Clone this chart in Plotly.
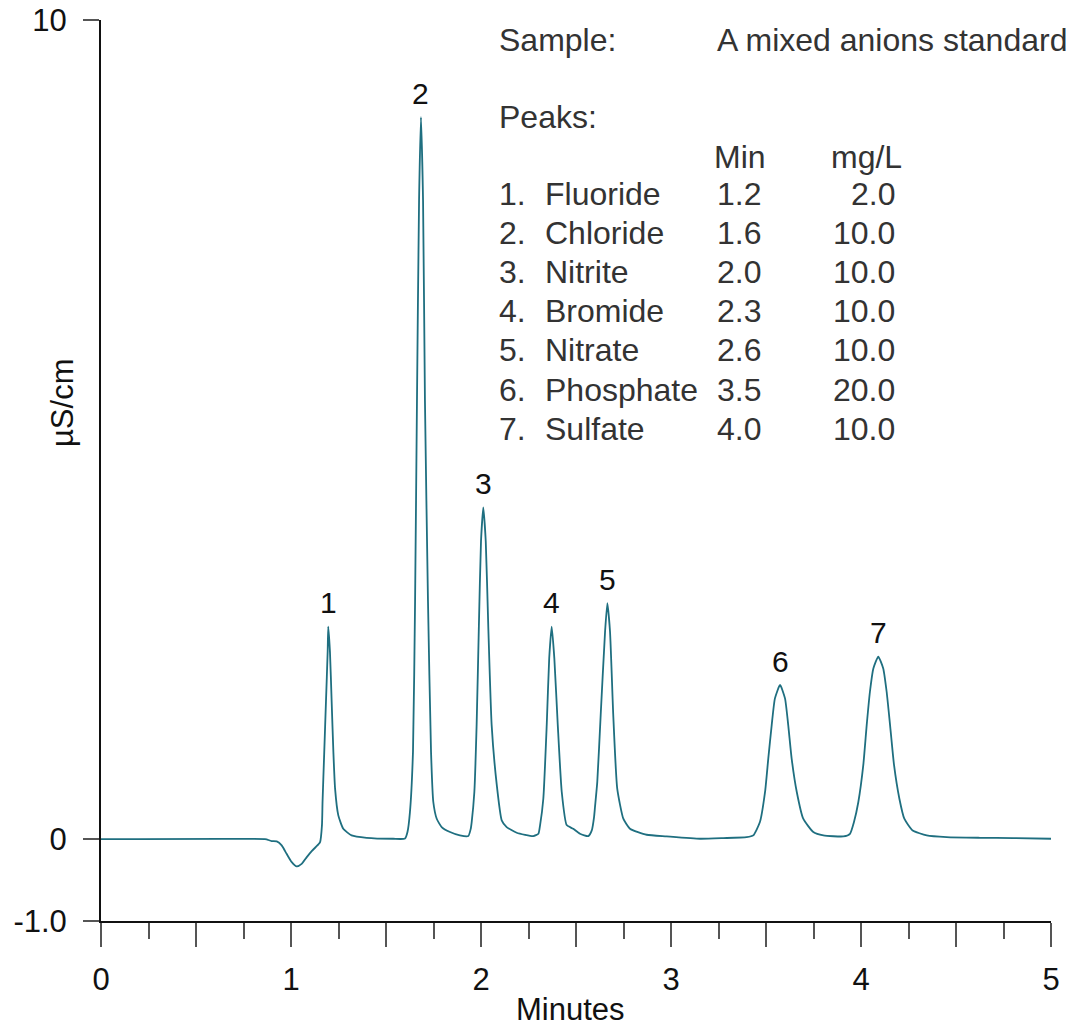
import plotly.graph_objects as go

# Chromatogram trace (minutes, µS/cm)
time_min = [0.000, 0.863, 0.872, 0.898, 0.925, 0.951, 0.977, 1.004, 1.030, 1.056, 1.083, 1.109, 1.144, 1.153,
            1.163, 1.166, 1.175, 1.184, 1.193, 1.196, 1.205, 1.214, 1.223, 1.232, 1.249, 1.275, 1.319, 1.398,
            1.538, 1.600, 1.613, 1.626, 1.642, 1.653, 1.663, 1.674, 1.684, 1.695, 1.705, 1.721, 1.737, 1.749,
            1.767, 1.793, 1.837, 1.889, 1.933, 1.946, 1.951, 1.965, 1.977, 1.989, 2.000, 2.012, 2.025, 2.038,
            2.056, 2.083, 2.109, 2.135, 2.188, 2.275, 2.302, 2.311, 2.328, 2.346, 2.359, 2.372, 2.386, 2.404,
            2.425, 2.451, 2.485, 2.521, 2.565, 2.583, 2.595, 2.600, 2.612, 2.630, 2.653, 2.665, 2.679, 2.696,
            2.717, 2.749, 2.784, 2.872, 2.977, 3.153, 3.275, 3.398, 3.433, 3.468, 3.495, 3.512, 3.530, 3.547,
            3.574, 3.600, 3.617, 3.635, 3.662, 3.696, 3.749, 3.802, 3.907, 3.942, 3.963, 3.986, 4.012, 4.030,
            4.047, 4.065, 4.091, 4.117, 4.135, 4.153, 4.174, 4.202, 4.228, 4.272, 4.346, 4.451, 4.626, 4.800,
            5.000]
signal_uS = [0.000, 0.000, -0.004, -0.024, -0.028, -0.077, -0.180, -0.282, -0.334, -0.302, -0.220, -0.147, -0.065, -0.037,
             0.171, 0.453, 1.065, 1.677, 2.289, 2.595, 2.289, 1.677, 1.065, 0.616, 0.290, 0.126, 0.045, 0.016,
             0.004, 0.006, 0.086, 0.330, 1.065, 2.901, 5.349, 7.797, 8.813, 7.797, 5.349, 2.901, 1.065, 0.453,
             0.249, 0.147, 0.086, 0.045, 0.037, 0.126, 0.208, 0.575, 1.395, 2.619, 3.635, 4.048, 3.635, 2.619,
             1.395, 0.661, 0.229, 0.147, 0.077, 0.037, 0.065, 0.171, 0.493, 1.395, 2.207, 2.595, 2.207, 1.395,
             0.575, 0.171, 0.126, 0.065, 0.037, 0.106, 0.269, 0.392, 0.698, 1.518, 2.534, 2.880, 2.534, 1.518,
             0.616, 0.249, 0.126, 0.053, 0.033, 0.004, 0.012, 0.024, 0.045, 0.208, 0.575, 0.983, 1.392, 1.718,
             1.881, 1.718, 1.392, 0.983, 0.575, 0.249, 0.086, 0.045, 0.033, 0.065, 0.208, 0.453, 0.902, 1.392,
             1.799, 2.084, 2.228, 2.084, 1.799, 1.392, 0.902, 0.493, 0.249, 0.106, 0.045, 0.024, 0.016, 0.012,
             0.004]

# Peak labels
peak_ids = ["1", "2", "3", "4", "5", "6", "7"]
peak_times = [1.196, 1.684, 2.012, 2.372, 2.665, 3.574, 4.091]
peak_heights = [2.595, 8.813, 4.048, 2.595, 2.880, 1.881, 2.228]

# Info table
peak_names = ["Fluoride", "Chloride", "Nitrite", "Bromide", "Nitrate", "Phosphate", "Sulfate"]
peak_min = ["1.2", "1.6", "2.0", "2.3", "2.6", "3.5", "4.0"]
peak_mgL = ["2.0", "10.0", "10.0", "10.0", "10.0", "20.0", "10.0"]
sample_text = "A mixed anions standard"

x_tickvals = [0, 0.5, 1, 1.5, 2, 2.5, 3, 3.5, 4, 4.5, 5]
x_ticktext = ["0", "", "1", "", "2", "", "3", "", "4", "", "5"]
y_tickvals = [-1, 0, 10]
y_ticktext = ["-1.0", "0", "10"]

FONT = "Liberation Sans, Arial, Helvetica, sans-serif"
FS = 32
TXT = "#333333"
LINE_COLOR = "#1f6f80"

fig = go.Figure()
fig.add_trace(go.Scatter(x=time_min, y=signal_uS, mode="lines",
                         line=dict(color=LINE_COLOR, width=1.8, shape="spline", smoothing=0.5),
                         showlegend=False, hoverinfo="skip"))

annotations = []
for pid, pt, ph in zip(peak_ids, peak_times, peak_heights):
    annotations.append(dict(x=pt, y=ph, xref="x", yref="y", text=pid, showarrow=False,
                            yanchor="middle", xanchor="center", yshift=24,
                            font=dict(family=FONT, size=FS - 2, color="#111")))

# plot area on screen: x 101..1051, y 20..921 (page has 8px body margin)
def paper_x(px):
    return (px - 101) / 950.0

def paper_y(py):
    return (921 - py) / 901.0

def add_text(text, px, py, anchor="left", size=FS):
    annotations.append(dict(x=paper_x(px), y=paper_y(py), xref="paper", yref="paper", text=text,
                            showarrow=False, xanchor=anchor, yanchor="middle",
                            font=dict(family=FONT, size=size, color=TXT)))

add_text("Sample:", 497, 40)
add_text(sample_text, 715, 40)
add_text("Peaks:", 497, 117)
add_text("Min", 712, 157)
add_text("mg/L", 829, 157)
row_y = [194, 233, 272, 311, 350, 390, 429]
for i, (nm, mn, mg) in enumerate(zip(peak_names, peak_min, peak_mgL)):
    add_text(f"{i + 1}.", 497, row_y[i])
    add_text(nm, 543, row_y[i])
    add_text(mn, 715, row_y[i])
    add_text(mg, 897, row_y[i], anchor="right")

# axis titles
annotations.append(dict(x=paper_x(570), y=paper_y(1009), xref="paper", yref="paper", text="Minutes",
                        showarrow=False, xanchor="center", yanchor="middle",
                        font=dict(family=FONT, size=FS - 1, color="#111")))
annotations.append(dict(x=paper_x(62), y=paper_y(403), xref="paper", yref="paper", text="µS/cm",
                        showarrow=False, xanchor="center", yanchor="middle", textangle=-90,
                        font=dict(family=FONT, size=FS - 1, color="#111")))

fig.update_layout(
    width=1066, height=1020,
    margin=dict(l=93, r=23, t=12, b=107),
    paper_bgcolor="white", plot_bgcolor="white",
    annotations=annotations,
    showlegend=False,
)
fig.update_xaxes(range=[0, 5], showgrid=False, zeroline=False, showline=True, linecolor="#111", linewidth=2,
                 automargin=False, ticklabeloverflow="allow",
                 tickmode="array", tickvals=x_tickvals, ticktext=x_ticktext,
                 ticks="outside", ticklen=24, tickwidth=2, tickcolor="#555",
                 ticklabelstandoff=6,
                 tickfont=dict(family=FONT, size=FS - 1, color="#111"),
                 minor=dict(tickmode="linear", tick0=0, dtick=0.25, ticks="outside", ticklen=16,
                            tickwidth=2, tickcolor="#555", showgrid=False))
fig.update_yaxes(range=[-1, 10], showgrid=False, zeroline=False, showline=True, linecolor="#111", linewidth=2,
                 automargin=False, ticklabeloverflow="allow",
                 tickmode="array", tickvals=y_tickvals, ticktext=y_ticktext,
                 ticks="outside", ticklen=16, tickwidth=2, tickcolor="#555",
                 ticklabelstandoff=10,
                 tickfont=dict(family=FONT, size=FS - 1, color="#111"))

fig.write_html("out.html")
